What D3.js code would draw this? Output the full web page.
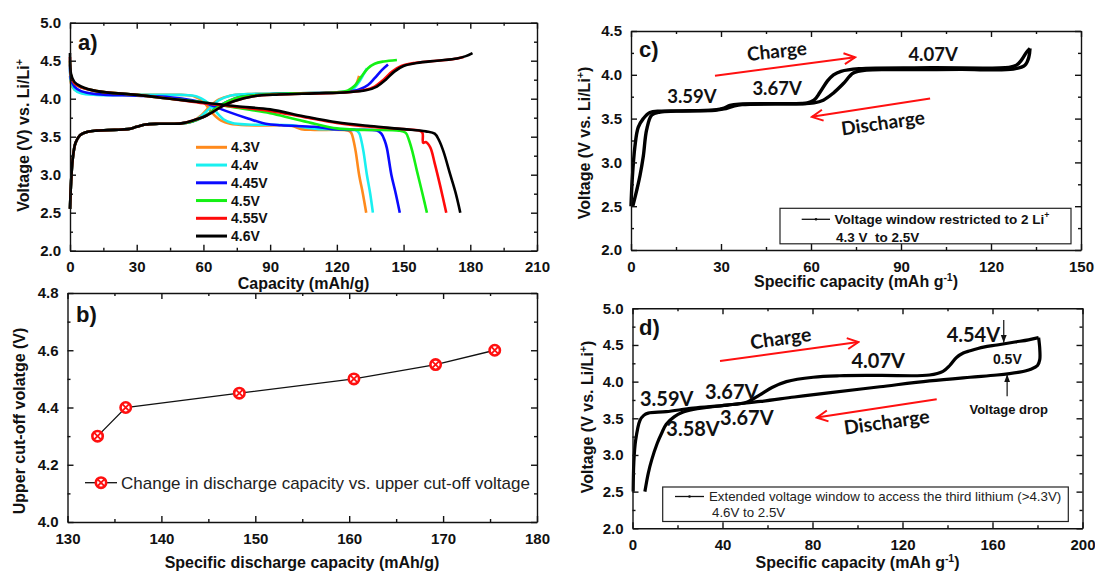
<!DOCTYPE html>
<html><head><meta charset="utf-8">
<script src="https://cdn.jsdelivr.net/npm/d3@7/dist/d3.min.js"></script>
<style>
body{margin:0;background:#fff;}
svg{display:block;font-family:"Liberation Sans",Arial,sans-serif;}
.tick text{font-weight:bold;font-size:15px;fill:#111;}
.domain,.tick line{stroke:#111;stroke-width:1.4px;}
</style></head><body>
<svg id="chart" width="1095" height="573"></svg>
<script>
// ---------------- DATA ----------------
// Panel a: charge / discharge curves for six upper cut-off voltages [capacity mAh/g, V]
const aLabels = ["4.3V","4.4v","4.45V","4.5V","4.55V","4.6V"];
const aColors = ["#ff8a1c","#19f0f0","#0a0aff","#14f014","#ff0a0a","#000000"];
const charge43 = [[0,2.55],[0.4,2.85],[1.2,3.2],[2.5,3.42],[4.5,3.52],[8,3.565],[12,3.58],[20,3.59],[26,3.6],[30,3.63],[34,3.66],[40,3.67],[50,3.675],[55,3.7],[59,3.78],[63,3.9],[67,3.99],[72,4.04],[80,4.06],[100,4.07],[120,4.08],[126,4.1],[128.5,4.18],[130,4.3]];
const charge44 = [[0,2.55],[0.4,2.85],[1.2,3.2],[2.5,3.42],[4.5,3.52],[8,3.565],[12,3.58],[20,3.59],[26,3.6],[30,3.63],[34,3.66],[40,3.67],[50,3.675],[55,3.7],[59,3.77],[63,3.88],[67,3.98],[72,4.04],[80,4.06],[100,4.07],[122,4.085],[127,4.12],[130,4.22],[132,4.32],[133.5,4.4]];
const charge445 = [[0,2.55],[0.4,2.85],[1.2,3.2],[2.5,3.42],[4.5,3.52],[8,3.565],[12,3.58],[20,3.59],[26,3.6],[30,3.63],[34,3.66],[40,3.67],[50,3.675],[55,3.7],[60,3.76],[65,3.86],[70,3.95],[76,4.02],[85,4.05],[100,4.07],[124,4.09],[130,4.12],[134,4.18],[137,4.27],[140,4.37],[143,4.45]];
const charge45 = [[0,2.55],[0.4,2.85],[1.2,3.2],[2.5,3.42],[4.5,3.52],[8,3.565],[12,3.58],[20,3.59],[26,3.6],[30,3.63],[34,3.66],[40,3.67],[50,3.675],[55,3.7],[60,3.76],[65,3.86],[70,3.95],[76,4.02],[85,4.05],[100,4.07],[120,4.085],[125,4.11],[128,4.17],[131,4.29],[134,4.4],[137,4.46],[141,4.49],[147,4.51]];
const charge455 = [[0,2.55],[0.4,2.85],[1.2,3.2],[2.5,3.42],[4.5,3.52],[8,3.565],[12,3.58],[20,3.59],[26,3.6],[30,3.63],[34,3.66],[40,3.67],[50,3.675],[56,3.72],[60,3.76],[64.5,3.83],[69,3.91],[74,3.97],[82,4.03],[94,4.055],[110,4.07],[125,4.085],[132,4.11],[137,4.16],[141,4.25],[145,4.36],[149,4.43],[155,4.47],[165,4.5],[172,4.52],[177,4.55]];
const charge46 = [[0,2.55],[0.4,2.85],[1.2,3.2],[2.5,3.42],[4.5,3.52],[8,3.565],[12,3.58],[20,3.59],[26,3.6],[30,3.63],[34,3.66],[40,3.67],[50,3.675],[56,3.72],[60,3.76],[64.5,3.83],[69,3.91],[74,3.97],[82,4.03],[94,4.055],[110,4.07],[125,4.085],[133,4.11],[138,4.16],[142,4.25],[146,4.36],[150,4.43],[156,4.47],[165,4.5],[174,4.53],[178,4.56],[181,4.6]];
const discharge43 = [[0,4.3],[0.5,4.2],[2,4.12],[5,4.08],[12,4.06],[30,4.05],[50,4.05],[56,4.03],[60,3.96],[64,3.81],[68,3.71],[72,3.67],[80,3.65],[95,3.65],[100,3.64],[104,3.6],[110,3.59],[125,3.58],[126.5,3.55],[127.5,3.45],[128.5,3.3],[130,3.0],[131.7,2.75],[133.2,2.5]];
const discharge44 = [[0,4.4],[0.5,4.22],[2,4.12],[5,4.07],[12,4.05],[30,4.05],[50,4.05],[57,4.03],[61,3.97],[65,3.85],[69,3.73],[73,3.68],[80,3.66],[100,3.65],[106,3.62],[112,3.6],[128,3.59],[130,3.55],[131,3.45],[132,3.3],[133.5,3.0],[135,2.75],[136.2,2.5]];
const discharge445 = [[0,4.45],[0.5,4.25],[2,4.16],[5,4.1],[12,4.06],[30,4.04],[45,4.02],[55,3.98],[62,3.93],[70,3.84],[80,3.74],[88,3.67],[95,3.65],[110,3.63],[118,3.6],[125,3.59],[138,3.58],[140,3.54],[141.5,3.45],[142.5,3.35],[144.5,3.0],[146.5,2.75],[148.3,2.5]];
const discharge45 = [[0,4.5],[0.5,4.3],[2,4.2],[5,4.15],[12,4.1],[30,4.05],[45,4.0],[60,3.95],[75,3.88],[90,3.81],[100,3.74],[110,3.67],[120,3.61],[130,3.59],[148,3.58],[151,3.55],[152.5,3.45],[154,3.3],[156,3.05],[158.5,2.75],[160.5,2.5]];
const discharge455 = [[0,4.55],[0.5,4.3],[2,4.2],[5,4.15],[12,4.1],[30,4.05],[45,4.0],[60,3.94],[75,3.89],[90,3.84],[105,3.76],[120,3.68],[135,3.63],[150,3.6],[157,3.58],[158.5,3.55],[158.8,3.42],[160,3.43],[162,3.36],[164,3.15],[166.5,2.85],[169.2,2.5]];
const discharge46 = [[0,4.6],[0.5,4.32],[2,4.22],[5,4.16],[12,4.1],[30,4.05],[45,4.0],[60,3.95],[75,3.9],[90,3.86],[105,3.77],[120,3.69],[135,3.64],[150,3.6],[160,3.57],[164,3.54],[166,3.45],[168,3.3],[171,3.0],[173.5,2.75],[175.5,2.5]];

// Panel b: specific discharge capacity vs upper cut-off voltage
const bCapacity = [133.2,136.2,148.3,160.5,169.2,175.5];
const bCutoff   = [4.3,4.4,4.45,4.5,4.55,4.6];

// Panel c: 4.3 V - 2.5 V cycle
const cCharge = [[0,2.5],[0.4,2.8],[1.3,3.18],[2.4,3.4],[4.1,3.5],[6.3,3.57],[10,3.585],[20,3.59],[28,3.6],[31,3.62],[33,3.65],[36,3.665],[50,3.67],[58.5,3.675],[61,3.71],[63,3.8],[65.5,3.93],[67.5,4.0],[70,4.04],[76,4.07],[100,4.08],[126,4.085],[128.5,4.11],[130.2,4.17],[131.9,4.26],[133,4.3]];
const cDischarge = [[133,4.3],[132.6,4.2],[131.3,4.11],[127.4,4.065],[110,4.062],[90,4.06],[78.5,4.055],[74.1,4.02],[70.8,3.9],[67.4,3.79],[64.1,3.71],[61,3.68],[55,3.67],[37,3.66],[34,3.64],[31,3.61],[28,3.595],[15,3.585],[9.7,3.575],[6.9,3.54],[5.2,3.37],[4.1,3.07],[3,2.85],[1.9,2.68],[0.6,2.5]];

// Panel d: 4.6 V - 2.5 V cycle
const dCharge = [[0.3,2.5],[0.6,2.9],[1.4,3.2],[3.3,3.47],[5,3.54],[7,3.57],[15,3.59],[27,3.64],[42,3.68],[50.7,3.72],[56.6,3.82],[62,3.92],[68.4,4.0],[80.3,4.06],[92,4.08],[110,4.085],[132,4.09],[138,4.14],[141,4.22],[144,4.33],[147,4.39],[150,4.42],[156,4.47],[162,4.5],[170,4.54],[176,4.57],[180.5,4.6]];
const dDischarge = [[180.5,4.6],[181,4.45],[181,4.3],[180,4.22],[177,4.17],[172,4.13],[162,4.09],[150,4.06],[132,4.01],[110,3.93],[88,3.85],[72,3.79],[57,3.73],[42,3.68],[27,3.62],[22,3.58],[18.5,3.52],[15,3.42],[13,3.3],[11,3.16],[8.5,2.93],[7,2.75],[5.5,2.5]];

// Tick values
const aXTicks = [0,30,60,90,120,150,180,210];
const aYTicks = [2.0,2.5,3.0,3.5,4.0,4.5,5.0];
const bXTicks = [130,140,150,160,170,180];
const bYTicks = [4.0,4.2,4.4,4.6,4.8];
const cXTicks = [0,30,60,90,120,150];
const cYTicks = [2.0,2.5,3.0,3.5,4.0,4.5];
const dXTicks = [0,40,80,120,160,200];
const dYTicks = [2.0,2.5,3.0,3.5,4.0,4.5,5.0];

// Annotations (data coordinates)
const cNotes = [{t:"3.59V",x:20.3,y:3.75},{t:"3.67V",x:48.7,y:3.84},{t:"4.07V",x:100.7,y:4.23}];
const dNotes = [{t:"3.59V",x:15.2,y:3.77},{t:"3.67V",x:44.1,y:3.86},{t:"3.67V",x:50.8,y:3.5},{t:"3.58V",x:26.9,y:3.35},{t:"4.07V",x:109.2,y:4.28},{t:"4.54V",x:151.5,y:4.64}];

// ---------------- DRAW ----------------
const svg = d3.select("#chart");
const defs = svg.append("defs");
defs.append("marker").attr("id","redHead").attr("markerUnits","userSpaceOnUse")
  .attr("viewBox","-1 -7 14 14").attr("refX",11).attr("refY",0)
  .attr("markerWidth",14).attr("markerHeight",14).attr("orient","auto")
  .append("path").attr("d","M0,-5.5L11,0L0,5.5").attr("fill","none").attr("stroke","#ff1010").attr("stroke-width",2);
defs.append("marker").attr("id","blackHead").attr("markerUnits","userSpaceOnUse")
  .attr("viewBox","0 -4 8 8").attr("refX",8).attr("refY",0)
  .attr("markerWidth",8).attr("markerHeight",8).attr("orient","auto")
  .append("path").attr("d","M0,-3L8,0L0,3Z").attr("fill","#111");

function mids(arr){const m=[];for(let i=0;i<arr.length-1;i++)m.push((arr[i]+arr[i+1])/2);return m;}

function panel(cfg){
  const x=d3.scaleLinear().domain(cfg.xd).range([cfg.l,cfg.r]);
  const y=d3.scaleLinear().domain(cfg.yd).range([cfg.b,cfg.t]);
  const g=svg.append("g");
  const data=g.append("g");
  const ax=g.append("g");
  const fx=d3.format("d"), fy=d3.format(".1f");
  ax.append("g").attr("transform",`translate(0,${cfg.b})`)
    .call(d3.axisBottom(x).tickValues(cfg.xt).tickSize(-6).tickSizeOuter(0).tickPadding(11).tickFormat(fx));
  ax.append("g").attr("transform",`translate(0,${cfg.b})`)
    .call(d3.axisBottom(x).tickValues(mids(cfg.xt)).tickSize(-3).tickFormat("")).select(".domain").remove();
  ax.append("g").attr("transform",`translate(${cfg.l},0)`)
    .call(d3.axisLeft(y).tickValues(cfg.yt).tickSize(-6).tickSizeOuter(0).tickPadding(9).tickFormat(fy));
  ax.append("g").attr("transform",`translate(${cfg.l},0)`)
    .call(d3.axisLeft(y).tickValues(mids(cfg.yt)).tickSize(-3).tickFormat("")).select(".domain").remove();
  ax.append("g").attr("transform",`translate(0,${cfg.t})`)
    .call(d3.axisTop(x).tickValues(cfg.xt).tickSize(-6).tickSizeOuter(0).tickFormat(""));
  ax.append("g").attr("transform",`translate(0,${cfg.t})`)
    .call(d3.axisTop(x).tickValues(mids(cfg.xt)).tickSize(-3).tickFormat("")).select(".domain").remove();
  ax.append("g").attr("transform",`translate(${cfg.r},0)`)
    .call(d3.axisRight(y).tickValues(cfg.yt).tickSize(-6).tickSizeOuter(0).tickFormat(""));
  ax.append("g").attr("transform",`translate(${cfg.r},0)`)
    .call(d3.axisRight(y).tickValues(mids(cfg.yt)).tickSize(-3).tickFormat("")).select(".domain").remove();
  return {x,y,g,data};
}

function boldText(g,x,y,txt,size,anchor){
  return g.append("text").attr("x",x).attr("y",y).attr("font-size",size).attr("font-weight","bold")
    .attr("text-anchor",anchor||"middle").attr("fill","#111").text(txt);
}
function supText(el,parts){ // parts: [text, isSup]
  parts.forEach(p=>{
    if(p[1]) el.append("tspan").attr("dy",-6).attr("font-size","0.65em").text(p[0]);
    else if(p[2]) el.append("tspan").attr("dy",6).text(p[0]);
    else el.append("tspan").text(p[0]);
  });
}
function yTitle(g,x,cy,parts){
  const t=g.append("text").attr("transform",`translate(${x},${cy}) rotate(-90)`)
    .attr("text-anchor","middle").attr("font-size",16).attr("font-weight","bold").attr("fill","#111");
  supText(t,parts); return t;
}
function xTitle(g,cx,y,parts){
  const t=g.append("text").attr("x",cx).attr("y",y)
    .attr("text-anchor","middle").attr("font-size",16).attr("font-weight","bold").attr("fill","#111");
  supText(t,parts); return t;
}
const curve = d3.curveCatmullRom.alpha(0.5);

// ----- Panel a -----
{
  const P=panel({l:70,r:537,t:22.7,b:250.7,xd:[0,210],yd:[2,5],xt:aXTicks,yt:aYTicks});
  const line=d3.line().x(d=>P.x(d[0])).y(d=>P.y(d[1])).curve(curve);
  const charges=[charge43,charge44,charge445,charge45,charge455,charge46];
  const discharges=[discharge43,discharge44,discharge445,discharge45,discharge455,discharge46];
  aLabels.forEach((lab,i)=>{
    P.data.append("path").attr("d",line(discharges[i])).attr("fill","none").attr("stroke",aColors[i]).attr("stroke-width",2.6);
    P.data.append("path").attr("d",line(charges[i])).attr("fill","none").attr("stroke",aColors[i]).attr("stroke-width",2.6);
  });
  // legend
  const lg=P.g.append("g");
  aLabels.forEach((lab,i)=>{
    const yy=147.3+i*17.75;
    lg.append("line").attr("x1",196).attr("x2",227).attr("y1",yy).attr("y2",yy).attr("stroke",aColors[i]).attr("stroke-width",3);
    boldText(lg,231,yy+5,lab,14,"start");
  });
  boldText(P.g,78,50,"a)",22,"start");
  yTitle(P.g,28.5,135.5,[["Voltage (V) vs. Li/Li"],["+",true]]);
  xTitle(P.g,303.5,288.5,[["Capacity (mAh/g)"]]);
}

// ----- Panel b -----
{
  const P=panel({l:67.5,r:537,t:293,b:522,xd:[130,180],yd:[4.0,4.8],xt:bXTicks,yt:bYTicks});
  const pts=bCapacity.map((c,i)=>[c,bCutoff[i]]);
  P.data.append("path").attr("d",d3.line().x(d=>P.x(d[0])).y(d=>P.y(d[1]))(pts))
    .attr("fill","none").attr("stroke","#111").attr("stroke-width",1.3);
  function marker(g,cx,cy){
    const m=g.append("g").attr("transform",`translate(${cx},${cy})`);
    m.append("circle").attr("r",5.2).attr("fill","#fff").attr("stroke","#ff1010").attr("stroke-width",2.6);
    m.append("path").attr("d","M-3.3,-3.3L3.3,3.3M-3.3,3.3L3.3,-3.3").attr("stroke","#ff1010").attr("stroke-width",1.8);
  }
  pts.forEach(p=>marker(P.data,P.x(p[0]),P.y(p[1])));
  P.g.append("line").attr("x1",85).attr("x2",117).attr("y1",482.7).attr("y2",482.7).attr("stroke","#111").attr("stroke-width",1.3);
  marker(P.g,101,482.7);
  P.g.append("text").attr("x",121).attr("y",488.7).attr("font-size",17).attr("fill","#222").text("Change in discharge capacity vs. upper cut-off voltage");
  boldText(P.g,76,322,"b)",22,"start");
  yTitle(P.g,25,421,[["Upper cut-off volatge (V)"]]);
  xTitle(P.g,302,568,[["Specific discharge capacity (mAh/g)"]]);
}

// red arrow + rotated label helper
function redArrow(P,from,to){
  P.g.append("line").attr("x1",P.x(from[0])).attr("y1",P.y(from[1])).attr("x2",P.x(to[0])).attr("y2",P.y(to[1]))
    .attr("stroke","#ff1010").attr("stroke-width",2).attr("marker-end","url(#redHead)");
}
function calibriLabel(P,pos,txt,size,rot){
  const cx=P.x(pos[0]), cy=P.y(pos[1]);
  P.g.append("text").attr("transform",`translate(${cx},${cy}) rotate(${rot})`).attr("text-anchor","middle")
    .attr("dy","0.35em").attr("font-family","Lato, 'Open Sans', sans-serif").attr("font-weight","bold")
    .attr("font-size",size).attr("fill","#111").text(txt);
}

// ----- Panel c -----
{
  const P=panel({l:631,r:1081,t:31,b:250,xd:[0,150],yd:[2,4.5],xt:cXTicks,yt:cYTicks});
  const line=d3.line().x(d=>P.x(d[0])).y(d=>P.y(d[1])).curve(curve);
  P.data.append("path").attr("d",line(cCharge)).attr("fill","none").attr("stroke","#000").attr("stroke-width",3.4);
  P.data.append("path").attr("d",line(cDischarge)).attr("fill","none").attr("stroke","#000").attr("stroke-width",3.4);
  cNotes.forEach(n=>calibriLabel(P,[n.x,n.y],n.t,18.5,0));
  redArrow(P,[28,3.99],[74.7,4.2]);
  calibriLabel(P,[48.6,4.27],"Charge",19,-6);
  redArrow(P,[99.7,3.73],[60.3,3.52]);
  calibriLabel(P,[84,3.45],"Discharge",19,-8);
  // legend
  P.g.append("rect").attr("x",780).attr("y",208.3).attr("width",291).attr("height",35.5).attr("fill","#fff").attr("stroke","#222").attr("stroke-width",1.2);
  P.g.append("line").attr("x1",801.7).attr("x2",830).attr("y1",219.3).attr("y2",219.3).attr("stroke","#111").attr("stroke-width",1.3);
  P.g.append("circle").attr("cx",816).attr("cy",219.3).attr("r",1.3).attr("fill","#111");
  const t1=P.g.append("text").attr("x",834.5).attr("y",224).attr("font-size",13.5).attr("font-weight","bold").attr("fill","#111");
  supText(t1,[["Voltage window restricted to 2 Li"],["+",true]]);
  boldText(P.g,836,242,"4.3 V  to 2.5V",13.5,"start").attr("xml:space","preserve").style("white-space","pre");
  boldText(P.g,639,57,"c)",22,"start");
  yTitle(P.g,589.5,143,[["Voltage (V vs. Li/Li"],["+",true],[")",false,true]]);
  xTitle(P.g,856,287,[["Specific capacity (mAh g"],["-1",true],[")",false,true]]);
}

// ----- Panel d -----
{
  const P=panel({l:632.5,r:1082.5,t:308.3,b:528.3,xd:[0,200],yd:[2,5],xt:dXTicks,yt:dYTicks});
  const line=d3.line().x(d=>P.x(d[0])).y(d=>P.y(d[1])).curve(curve);
  P.data.append("path").attr("d",line(dCharge)).attr("fill","none").attr("stroke","#000").attr("stroke-width",3.2);
  P.data.append("path").attr("d",line(dDischarge)).attr("fill","none").attr("stroke","#000").attr("stroke-width",3.2);
  dNotes.forEach(n=>calibriLabel(P,[n.x,n.y],n.t,20,0));
  redArrow(P,[38.9,4.28],[100.4,4.54]);
  calibriLabel(P,[65.9,4.59],"Charge",19.5,-8);
  redArrow(P,[135.2,3.76],[81.9,3.51]);
  calibriLabel(P,[113,3.45],"Discharge",19.5,-8);
  // small black arrows
  P.g.append("line").attr("x1",P.x(165)).attr("x2",P.x(165)).attr("y1",P.y(4.84)).attr("y2",P.y(4.53))
    .attr("stroke","#111").attr("stroke-width",1.2).attr("marker-end","url(#blackHead)");
  P.g.append("line").attr("x1",P.x(166.5)).attr("x2",P.x(166.5)).attr("y1",P.y(3.8)).attr("y2",P.y(4.1))
    .attr("stroke","#111").attr("stroke-width",1.2).attr("marker-end","url(#blackHead)");
  boldText(P.g,P.x(166.6),P.y(4.31)+5,"0.5V",14);
  boldText(P.g,P.x(167.2),P.y(3.63)+5,"Voltage drop",13);
  // legend
  P.g.append("rect").attr("x",662.7).attr("y",487).attr("width",405.6).attr("height",34.5).attr("fill","#fff").attr("stroke","#222").attr("stroke-width",1.2);
  P.g.append("line").attr("x1",675).attr("x2",704).attr("y1",496.5).attr("y2",496.5).attr("stroke","#111").attr("stroke-width",1.3);
  P.g.append("circle").attr("cx",689.5).attr("cy",496.5).attr("r",1.3).attr("fill","#111");
  P.g.append("text").attr("x",709).attr("y",501.2).attr("font-size",13.3).attr("fill","#222").text("Extended voltage window to access the third lithium (>4.3V)");
  P.g.append("text").attr("x",712).attr("y",516.5).attr("font-size",13.3).attr("fill","#222").text("4.6V to 2.5V");
  boldText(P.g,639,335,"d)",22,"start");
  yTitle(P.g,593,417,[["Voltage (V vs. Li/Li"],["+",true],[")",false,true]]);
  xTitle(P.g,857.5,568,[["Specific capacity (mAh g"],["-1",true],[")",false,true]]);
}
</script>
</body></html>
